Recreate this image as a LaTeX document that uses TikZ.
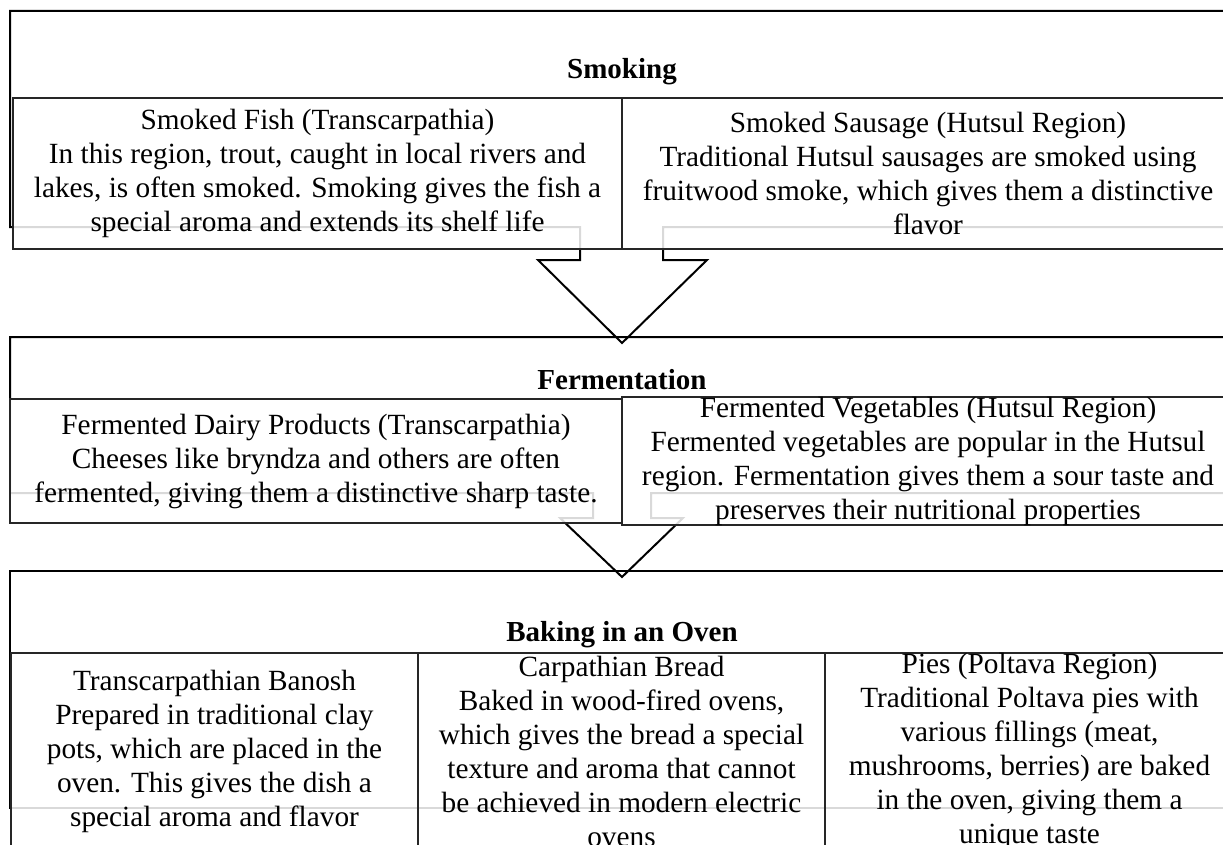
\documentclass[tikz,border=0pt]{standalone}
\usepackage{fontspec}
\setmainfont{Liberation Serif}
\begin{document}
\begin{tikzpicture}[x=1pt,y=-1pt,
  callout/.style={draw=black, line width=2pt, line join=miter},
  box/.style={draw=black!85, line width=2pt, fill=white, fill opacity=0.85, text opacity=1,
    align=center, inner sep=0pt, font=\fontsize{29.3}{34}\selectfont},
  title/.style={inner sep=0pt, font=\fontsize{29}{34}\selectfont\bfseries}
]
\useasboundingbox (0,0) rectangle (1223,845);
\clip (0,0) rectangle (1223,845);

% section shapes (body + down arrow)
\draw[callout] (10,11) -- (1234,11) -- (1234,227) -- (663,227) -- (663,260) -- (707,260)
  -- (622,343) -- (538,260) -- (580,260) -- (580,227) -- (10,227) -- cycle;
\draw[callout] (10,337) -- (1234,337) -- (1234,493) -- (651,493) -- (651,518) -- (683,518)
  -- (622,577) -- (560,518) -- (593,518) -- (593,493) -- (10,493) -- cycle;
\draw[callout] (10,571) rectangle (1234,808);

% titles
\node[title] (t1) at (622,72) {Smoking};
\node[title] (t2) at (622,380) {Fermentation};
\node[title] (t3) at (622,635) {Baking in an Oven};

% Smoking boxes
\node[box, minimum width=609pt, minimum height=151pt] (sf) at (317.5,173.5)
  {Smoked Fish (Transcarpathia)\\In this region, trout, caught in local rivers and\\lakes, is often smoked. Smoking gives the fish a\\special aroma and extends its shelf life};
\node[box, minimum width=612pt, minimum height=151pt] (ss) at (928,173.5)
  {Smoked Sausage (Hutsul Region)\\Traditional Hutsul sausages are smoked using\\fruitwood smoke, which gives them a distinctive\\flavor};

% Fermentation boxes
\node[box, minimum width=612pt, minimum height=124pt] (fd) at (316,461)
  {Fermented Dairy Products (Transcarpathia)\\Cheeses like bryndza and others are often\\fermented, giving them a distinctive sharp taste.};
\node[box, minimum width=612pt, minimum height=128pt] (fv) at (928,461)
  {Fermented Vegetables (Hutsul Region)\\Fermented vegetables are popular in the Hutsul\\region. Fermentation gives them a sour taste and\\preserves their nutritional properties};

% Baking boxes
\node[box, minimum width=407pt, minimum height=196pt] (tb) at (214.5,751)
  {Transcarpathian Banosh\\Prepared in traditional clay\\pots, which are placed in the\\oven. This gives the dish a\\special aroma and flavor};
\node[box, minimum width=407pt, minimum height=196pt] (cb) at (621.5,751)
  {Carpathian Bread\\Baked in wood-fired ovens,\\which gives the bread a special\\texture and aroma that cannot\\be achieved in modern electric\\ovens};
\node[box, minimum width=409pt, minimum height=196pt] (pp) at (1029.5,751)
  {Pies (Poltava Region)\\Traditional Poltava pies with\\various fillings (meat,\\mushrooms, berries) are baked\\in the oven, giving them a\\unique taste};
\end{tikzpicture}
\end{document}
